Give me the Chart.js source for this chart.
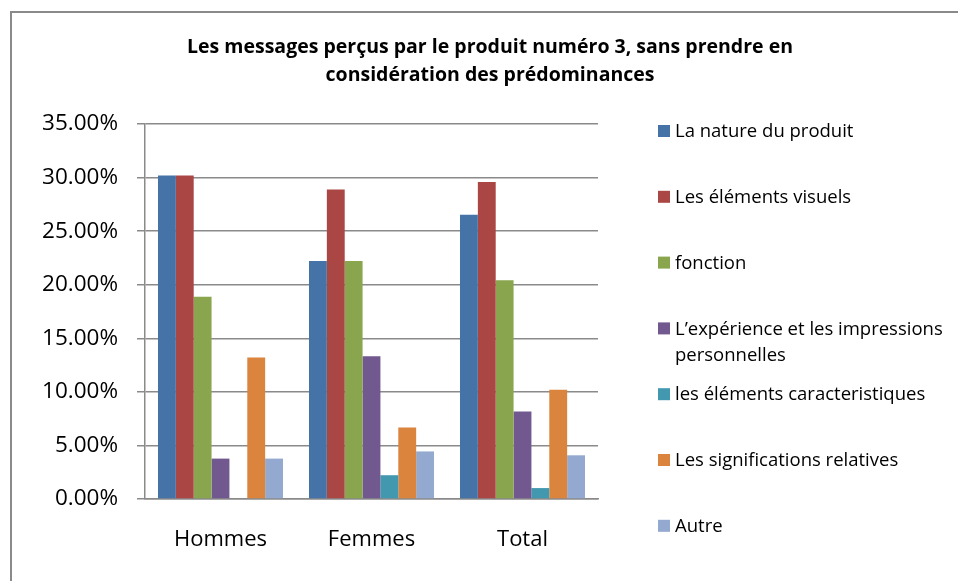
<!DOCTYPE html>
<html>
<head>
<meta charset="utf-8">
<script src="https://cdn.jsdelivr.net/npm/chart.js@4/dist/chart.umd.min.js"></script>
<style>
html,body{margin:0;padding:0;background:#fff;}
#wrap{width:958px;height:581px;position:relative;}
canvas{display:block;}
</style>
</head>
<body>
<div id="wrap"><canvas id="c" width="958" height="581"></canvas></div>
<script>
const titleLines = ["Les messages perçus par le produit numéro 3, sans prendre en", "considération des prédominances"];
const categories = ["Hommes", "Femmes", "Total"];
const seriesNames = [
  "La nature du produit",
  "Les éléments visuels",
  "fonction",
  "L’expérience et les impressions personnelles",
  "les éléments caracteristiques",
  "Les significations relatives",
  "Autre"
];
const natureProduit = [30.19, 22.22, 26.53];
const elementsVisuels = [30.19, 28.89, 29.59];
const fonction = [18.87, 22.22, 20.41];
const experience = [3.77, 13.33, 8.16];
const elementsCaract = [0, 2.22, 1.02];
const significations = [13.21, 6.67, 10.20];
const autre = [3.77, 4.44, 4.08];
const yTicks = [0, 5, 10, 15, 20, 25, 30, 35];

const seriesValues = [natureProduit, elementsVisuels, fonction, experience, elementsCaract, significations, autre];
const colors = ["#4572A7", "#AA4643", "#89A54E", "#71588F", "#4198AF", "#DB843D", "#93A9CF"];

const FONT = "'Open Sans', 'Liberation Sans', sans-serif";

const decorPlugin = {
  id: 'decor',
  beforeDraw(chart) {
    const ctx = chart.ctx;
    ctx.save();
    ctx.fillStyle = '#fff';
    ctx.fillRect(0, 0, chart.width, chart.height);
    ctx.strokeStyle = '#8a8a8a';
    ctx.lineWidth = 2;
    ctx.strokeRect(11, 12, chart.width + 20, chart.height + 20);
    ctx.restore();
  },
  afterDraw(chart) {
    const ctx = chart.ctx;
    ctx.save();
    // title
    ctx.fillStyle = '#000';
    ctx.font = "bold 19.5px " + FONT;
    ctx.textAlign = 'center';
    ctx.textBaseline = 'middle';
    titleLines.forEach((t, i) => ctx.fillText(t, 490, 47 + i * 28));
    // legend
    ctx.font = "18.5px " + FONT;
    ctx.textAlign = 'left';
    const x0 = 658, tx = 675, maxW = chart.width - tx - 4;
    chart.data.datasets.forEach((ds, i) => {
      const cy = 131 + i * 65.8;
      ctx.fillStyle = ds.backgroundColor;
      ctx.fillRect(x0, cy - 6, 12, 12);
      ctx.fillStyle = '#000';
      const words = ds.label.split(' ');
      let lines = [], cur = '';
      words.forEach(w => {
        const test = cur ? cur + ' ' + w : w;
        if (ctx.measureText(test).width > maxW && cur) { lines.push(cur); cur = w; }
        else cur = test;
      });
      lines.push(cur);
      lines.forEach((l, j) => ctx.fillText(l, tx, cy + 1 + j * 26));
    });
    ctx.restore();
  }
};

new Chart(document.getElementById('c'), {
  type: 'bar',
  data: {
    labels: categories,
    datasets: seriesNames.map((n, i) => ({
      label: n,
      data: seriesValues[i],
      backgroundColor: colors[i],
      borderWidth: 0,
      categoryPercentage: 0.828,
      barPercentage: 1
    }))
  },
  options: {
    responsive: false,
    animation: false,
    devicePixelRatio: 1,
    layout: { padding: { left: 0, right: 360, top: 124, bottom: 0 } },
    plugins: { legend: { display: false }, title: { display: false }, tooltip: { enabled: false } },
    scales: {
      x: {
        grid: { display: false, drawTicks: false, tickLength: 0 },
        border: { display: true, color: '#8a8a8a', width: 1.5 },
        ticks: { font: { family: FONT, size: 22 }, color: '#000', padding: 28 },
        afterFit(s) { s.height = 82; }
      },
      y: {
        min: 0, max: 35,
        afterBuildTicks(s) { s.ticks = yTicks.map(v => ({ value: v })); },
        grid: { color: '#8a8a8a', lineWidth: 1.5, tickLength: 8, drawTicks: true },
        border: { display: true, color: '#8a8a8a', width: 1.5 },
        ticks: { font: { family: FONT, size: 22.5 }, color: '#000', padding: 19,
          callback: v => v.toFixed(2) + '%' },
        afterFit(s) { s.width = 145; }
      }
    }
  },
  plugins: [decorPlugin]
});
</script>
</body>
</html>
